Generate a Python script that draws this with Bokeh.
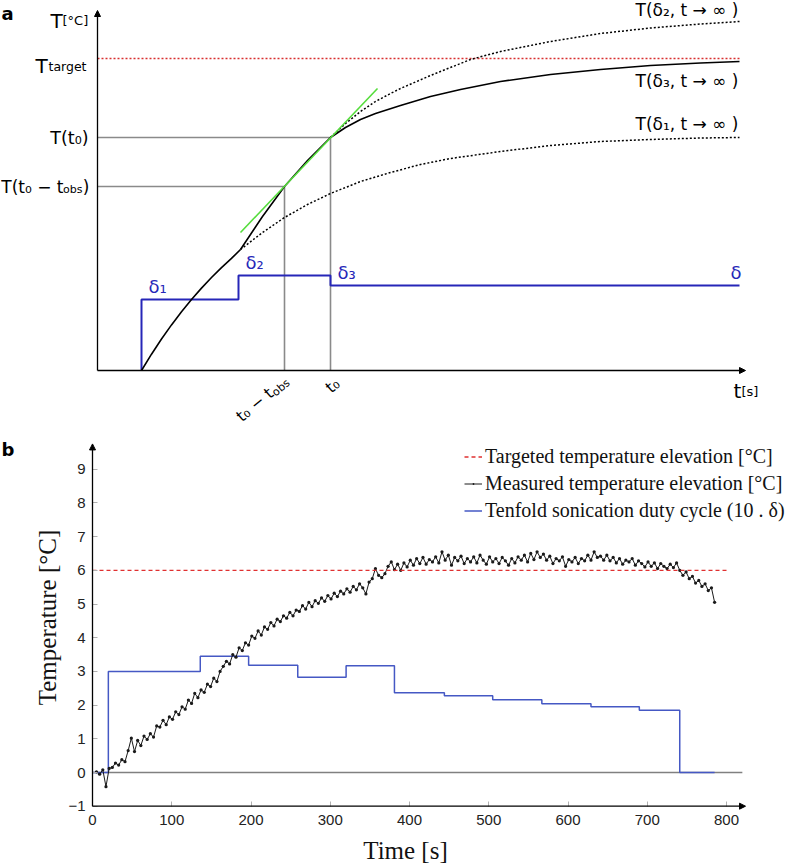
import math
from bokeh.plotting import figure
from bokeh.layouts import column
from bokeh.models import (Range1d, Arrow, NormalHead, Legend, LegendItem, FixedTicker)
from bokeh.core.properties import value
from bokeh.embed import file_html
from bokeh.resources import INLINE

# ------------------------------------------------------------------
# Panel a : schematic (in page pixels)
# ------------------------------------------------------------------
rise1_t = [141, 151, 161, 171, 181, 191, 201, 211, 221, 231, 240]
rise1_T = [370, 353.7, 338.5, 324.4, 311.2, 299, 287.6, 277, 267.1, 257.9, 249]
rise2_t = [240, 262, 284, 307, 330]
rise2_T = [249, 216, 186, 160, 137]
rise3_t = [330, 345, 360, 375, 400, 430, 460, 500, 550, 600, 650, 700, 739]
rise3_T = [137, 127, 119, 113, 105, 96, 89, 81, 74, 69, 65, 62.5, 61]
asym1_t = [240, 262, 284, 307, 330, 360, 390, 420, 450, 500, 550, 600, 650, 700, 739]
asym1_T = [249, 232, 217, 204, 193, 181, 172, 164, 158, 151, 145, 141, 139, 137.5, 137]
asym2_t = [330, 345, 360, 375, 390, 400, 430, 470, 500, 550, 600, 650, 700, 739]
asym2_T = [137, 123, 111, 101, 93, 88, 75, 59, 51, 41, 33, 27.5, 23.5, 21]
duty_a_t = [141, 141, 238, 238, 330, 330, 739]
duty_a_v = [370, 299, 299, 275, 275, 285, 285]
tangent_t = [240, 377]
tangent_T = [232, 88]
t_origin, T_origin = 97, 370
t_end, T_top = 745, 10
t0, t0_obs = 330, 284
T_t0, T_t0_obs = 137, 186
T_target_a = 58
t_target_end = 739

# ------------------------------------------------------------------
# Panel b : experiment
# ------------------------------------------------------------------
target_temp = 6.0
target_span = [0, 800]
zero_span = [0, 820]
duty_times = [0, 20, 136, 197, 259, 320, 381, 444, 505, 567, 629, 690, 741, 785]
duty_tenfold = [0, 3.0, 3.45, 3.18, 2.83, 3.17, 2.37, 2.28, 2.16, 2.04, 1.95, 1.85, 0, 0]
meas_time = list(range(5, 789, 4))
meas_temp = [
    0.02, -0.05, 0.08, -0.42, 0.12, 0.15, 0.28, 0.22, 0.38, 0.32,
    0.65, 1.02, 0.62, 0.95, 0.80, 1.08, 0.98, 1.15, 1.05, 1.38,
    1.35, 1.55, 1.42, 1.65, 1.58, 1.80, 1.72, 1.95, 1.88, 2.15,
    2.05, 2.35, 2.22, 2.45, 2.38, 2.62, 2.55, 2.80, 2.70, 3.00,
    3.15, 3.30, 3.22, 3.50, 3.42, 3.70, 3.62, 3.85, 3.78, 4.05,
    3.98, 4.20, 4.08, 4.32, 4.25, 4.45, 4.35, 4.55, 4.48, 4.65,
    4.58, 4.75, 4.65, 4.82, 4.78, 4.95, 4.85, 5.05, 4.92, 5.10,
    5.02, 5.18, 5.08, 5.25, 5.15, 5.32, 5.22, 5.38, 5.30, 5.45,
    5.35, 5.52, 5.42, 5.60, 5.48, 5.30, 5.65, 5.75, 6.05, 5.85,
    5.78, 5.90, 6.12, 6.25, 6.02, 6.18, 6.00, 6.22, 6.10, 6.30,
    6.15, 6.35, 6.20, 6.38, 6.18, 6.32, 6.25, 6.40, 6.22, 6.55,
    6.30, 6.45, 6.15, 6.38, 6.28, 6.42, 6.20, 6.35, 6.25, 6.40,
    6.22, 6.45, 6.30, 6.18, 6.40, 6.25, 6.35, 6.20, 6.38, 6.28,
    6.15, 6.35, 6.22, 6.40, 6.30, 6.45, 6.25, 6.50, 6.32, 6.55,
    6.38, 6.48, 6.30, 6.42, 6.20, 6.35, 6.28, 6.40, 6.12, 6.32,
    6.25, 6.38, 6.20, 6.35, 6.28, 6.45, 6.30, 6.55, 6.38, 6.42,
    6.30, 6.45, 6.28, 6.38, 6.22, 6.35, 6.18, 6.30, 6.25, 6.35,
    6.15, 6.28, 6.20, 6.10, 6.25, 6.12, 6.22, 6.05, 6.20, 6.12,
    6.05, 6.18, 6.08, 6.22, 6.00, 5.85, 5.95, 5.75, 5.82, 5.62,
    5.70, 5.52, 5.60, 5.40, 5.48, 5.05,
]
x_ticks = [0, 100, 200, 300, 400, 500, 600, 700, 800]
y_ticks = [-1, 0, 1, 2, 3, 4, 5, 6, 7, 8, 9]
x_axis_end = 824
y_axis_end = 9.75

SANS = "DejaVu Sans"
SERIF = "Liberation Serif"
GRAY = "#8a8a8a"
BLUE_A = "#2626b8"
GREEN = "#55dd3c"
RED = "#d83030"

W = 797
HA = 428
HB = 435

# ================= panel a =================
pa = figure(width=W, height=HA, x_range=Range1d(0, W), y_range=Range1d(HA, 0),
            x_axis_location=None, y_axis_location=None, toolbar_location=None,
            output_backend="svg", min_border=0)
pa.grid.visible = False
pa.outline_line_color = None


def arrow(p, x0, y0, x1, y1):
    p.add_layout(Arrow(end=NormalHead(size=6, fill_color="black", line_color="black"),
                       x_start=x0, y_start=y0, x_end=x1, y_end=y1,
                       line_color="black", line_width=1.3))


arrow(pa, t_origin, T_origin, t_origin, T_top)
arrow(pa, t_origin, T_origin, t_end, T_origin)

pa.line([t_origin, t_target_end], [T_target_a, T_target_a], line_color=RED,
        line_dash="2 2", line_width=1.3)
pa.line([t_origin, t0, t0], [T_t0, T_t0, T_origin], line_color=GRAY, line_width=1.6)
pa.line([t_origin, t0_obs, t0_obs], [T_t0_obs, T_t0_obs, T_origin], line_color=GRAY,
        line_width=1.6)
pa.line(duty_a_t, duty_a_v, line_color=BLUE_A, line_width=2)
pa.line(asym1_t, asym1_T, line_color="black", line_dash="2 2", line_width=1.5)
pa.line(asym2_t, asym2_T, line_color="black", line_dash="2 2", line_width=1.5)
pa.line(rise1_t, rise1_T, line_color="black", line_width=1.6)
pa.line(rise2_t, rise2_T, line_color="black", line_width=1.6)
pa.line(rise3_t, rise3_T, line_color="black", line_width=1.6)
pa.line(tangent_t, tangent_T, line_color=GREEN, line_width=1.6)


def put(p, x, y, s, size, align="left", baseline="middle", color="black", angle=0.0,
        bold=False, font=SANS):
    p.text(x=[x], y=[y], text=[s], text_font=value(font), text_font_size=f"{size}px",
           text_align=align, text_baseline=baseline, text_color=color, angle=angle,
           text_font_style="bold" if bold else "normal")


put(pa, 1, 13, "a", 18, baseline="alphabetic", bold=True)
put(pa, 50, 20, "T", 20, baseline="alphabetic")
put(pa, 62, 20, "[°C]", 13, baseline="alphabetic")
put(pa, 35, 65, "T", 20, baseline="alphabetic")
put(pa, 48, 66, "target", 12.5, baseline="alphabetic")
put(pa, 88, T_t0, "T(t₀)", 17.5, align="right")
put(pa, 89, T_t0_obs, ")", 17, align="right")
put(pa, 82, T_t0_obs + 3, "obs", 11, align="right")
put(pa, 63, T_t0_obs, "T(t₀ − t", 17, align="right")
put(pa, 635, 9, "T(δ₂, t → ∞ )", 17)
put(pa, 635, 80, "T(δ₃, t → ∞ )", 17)
put(pa, 635, 123, "T(δ₁, t → ∞ )", 17)
put(pa, 148, 286, "δ₁", 18, color=BLUE_A)
put(pa, 245, 262, "δ₂", 18, color=BLUE_A)
put(pa, 337, 272, "δ₃", 18, color=BLUE_A)
put(pa, 730, 272, "δ", 18, color=BLUE_A)
put(pa, 733, 390, "t", 20, baseline="alphabetic")
put(pa, 741, 391, "[s]", 13, baseline="alphabetic")

# rotated tick labels under the t axis
th = math.radians(40)
dx, dy = math.cos(th), -math.sin(th)
nx, ny = math.sin(th), math.cos(th)
ax_, ay_ = 288, 381
put(pa, ax_, ay_, "obs", 11, align="right", angle=th)
w_obs = 19.4
mx, my = ax_ - dx * w_obs - nx * 4, ay_ - dy * w_obs - ny * 4
put(pa, mx, my, "t₀ − t", 16, align="right", angle=th)
put(pa, 337, 381, "t₀", 16, align="right", angle=th)

# ================= panel b =================
# frame fills the whole figure; axes are pinned at x=0 and y=-1
px_per_s = 0.7925
px_per_deg = 33.7
x0_px, y0_px = 92, 772 - HA
xb_range = Range1d(-x0_px / px_per_s, (W - x0_px) / px_per_s)
yb_range = Range1d((y0_px - HB) / px_per_deg, y0_px / px_per_deg)

pb = figure(width=W, height=HB, x_range=xb_range, y_range=yb_range,
            toolbar_location=None, output_backend="svg", min_border=0)
pb.grid.visible = False
pb.outline_line_color = None

for ax in (pb.xaxis[0], pb.yaxis[0]):
    ax.axis_line_color = None
    ax.major_tick_in = 5
    ax.major_tick_out = 0
    ax.major_tick_line_color = "#b0b0b0"
    ax.minor_tick_line_color = None
    ax.major_label_text_font = "Liberation Sans"
    ax.major_label_text_font_size = "15px"
    ax.major_label_text_color = "#222222"
    ax.axis_label_text_font = SERIF
    ax.axis_label_text_font_size = "25px"
    ax.axis_label_text_font_style = "normal"
    ax.axis_label_text_color = "#111111"

pb.xaxis[0].fixed_location = -1
pb.yaxis[0].fixed_location = 0
pb.xaxis[0].bounds = (0, 790)
pb.yaxis[0].bounds = (-1, 10.2)
pb.xaxis[0].ticker = FixedTicker(ticks=x_ticks)
pb.yaxis[0].ticker = FixedTicker(ticks=y_ticks)
pb.yaxis[0].major_label_overrides = {-1: "−1"}
pb.xaxis[0].axis_label = "Time [s]"
pb.yaxis[0].axis_label = "Temperature [°C]"
pb.xaxis[0].major_label_standoff = 9
pb.xaxis[0].axis_label_standoff = 8
pb.yaxis[0].major_label_standoff = 7
pb.yaxis[0].axis_label_standoff = 4

arrow(pb, 0, -1, 0, y_axis_end)
arrow(pb, 0, -1, x_axis_end, -1)

pb.line(zero_span, [0, 0], line_color="#808080", line_width=1.4)
r_duty = pb.step(duty_times, duty_tenfold, mode="after", line_color="#4558c4", line_width=1.5)
r_meas_l = pb.line(meas_time, meas_temp, line_color="#1a1a1a", line_width=1.0)
r_meas_s = pb.scatter(meas_time, meas_temp, marker="dot", size=13, color="#1a1a1a")
r_target = pb.line(target_span, [target_temp, target_temp], line_color="#e03030",
                   line_dash="4 3", line_width=1.3)

legend = Legend(items=[
    LegendItem(label="Targeted temperature elevation [°C]", renderers=[r_target]),
    LegendItem(label="Measured temperature elevation [°C]", renderers=[r_meas_l, r_meas_s]),
    LegendItem(label="Tenfold sonication duty cycle (10 . δ)", renderers=[r_duty]),
], location=(464, 341), label_text_font=SERIF, label_text_font_size="20px",
    label_text_color="#111111",
    glyph_width=18, glyph_height=23, label_height=23, label_standoff=3, spacing=4,
    padding=0, margin=0, border_line_alpha=0, background_fill_alpha=0)
pb.add_layout(legend)

put(pb, -x0_px / px_per_s + 1 / px_per_s, (772 - 449) / px_per_deg,
    "b", 18, baseline="middle", bold=True)

layout = column(pa, pb, spacing=0)
open("out.html", "w").write(file_html(layout, INLINE))
